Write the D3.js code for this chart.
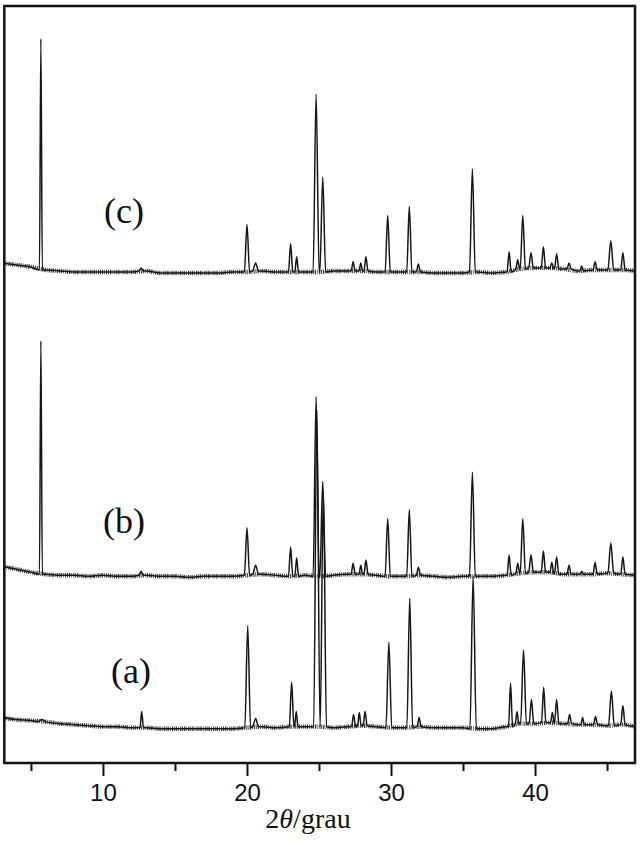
<!DOCTYPE html>
<html>
<head>
<meta charset="utf-8">
<script src="https://cdn.jsdelivr.net/npm/d3@7"></script>
<style>
  body { margin: 0; background: #fff; }
  .tick text { font-family: "Liberation Sans", Arial, sans-serif; font-size: 24px; fill: #111; }
  .panel-label { font-family: "Liberation Serif", "Times New Roman", serif; font-size: 36px; fill: #111; }
  .x-axis-label { font-family: "Liberation Serif", "Times New Roman", serif; font-size: 28px; fill: #111; }
</style>
</head>
<body>
<div id="wrapper"></div>
<script>
// baseline levels (counts) read every 1 degree, 2theta = 3 ... 47
const baselineTheta = d3.range(3, 48, 1);
const baselineA = [90,86,84,82,78,76,74,72,72,70, 70,68,68,68,68,68,68,70,72,70,
                   72,72,72,70,72,74,72,70,70,72, 70,70,70,68,68,72,78,78,80,78,
                   76,76,74,76,72];
const baselineB = [88,82,76,72,70,70,68,70,68,68, 70,68,68,66,68,68,68,70,72,70,
                   68,70,68,70,72,72,70,68,68,70, 68,66,68,68,68,70,74,76,76,72,
                   72,72,74,72,70];
const baselineC = [86,82,78,72,70,68,68,68,68,68, 70,66,66,66,66,66,68,68,70,68,
                   68,68,68,70,70,70,68,68,68,68, 66,66,66,68,66,68,74,76,76,74,
                   70,72,72,72,70];

// peaks: [2theta, apex counts, half base width (deg)]
const peaksA = [
  [5.75, 86, 0.25], [12.69, 102, 0.12], [20.05, 272, 0.2], [20.6, 88, 0.2],
  [23.1, 160, 0.16], [23.42, 102, 0.12], [24.85, 700, 0.22], [25.3, 540, 0.22],
  [27.4, 96, 0.14], [27.8, 100, 0.12], [28.2, 102, 0.14], [29.85, 240, 0.2],
  [31.3, 326, 0.2], [31.95, 90, 0.14], [35.7, 370, 0.22], [38.3, 158, 0.14],
  [38.75, 102, 0.12], [39.2, 224, 0.2], [39.75, 126, 0.16], [40.6, 150, 0.15],
  [41.2, 100, 0.12], [41.5, 126, 0.15], [42.4, 96, 0.14], [43.3, 90, 0.12],
  [44.2, 92, 0.14], [45.3, 142, 0.2], [46.1, 114, 0.15]
];
const peaksB = [
  [5.69, 534, 0.1], [12.65, 78, 0.15], [20.0, 164, 0.18], [20.6, 90, 0.2],
  [23.03, 126, 0.15], [23.45, 104, 0.13], [24.8, 424, 0.21], [25.26, 256, 0.2],
  [27.37, 94, 0.14], [27.9, 90, 0.12], [28.26, 100, 0.14], [29.77, 182, 0.18],
  [31.27, 200, 0.18], [31.9, 86, 0.14], [35.65, 274, 0.2], [38.2, 110, 0.14],
  [38.8, 94, 0.13], [39.15, 182, 0.18], [39.72, 110, 0.16], [40.58, 118, 0.15],
  [41.16, 96, 0.12], [41.5, 106, 0.15], [42.36, 90, 0.14], [43.24, 78, 0.12],
  [44.17, 96, 0.14], [45.26, 134, 0.2], [46.1, 106, 0.15]
];
const peaksC = [
  [5.69, 530, 0.1], [12.65, 76, 0.15], [20.0, 162, 0.18], [20.6, 86, 0.2],
  [23.03, 124, 0.15], [23.45, 98, 0.13], [24.8, 420, 0.21], [25.26, 256, 0.2],
  [27.37, 88, 0.14], [27.9, 86, 0.12], [28.26, 98, 0.14], [29.77, 180, 0.18],
  [31.27, 198, 0.18], [31.9, 84, 0.14], [35.65, 272, 0.2], [38.2, 108, 0.14],
  [38.8, 92, 0.13], [39.15, 180, 0.18], [39.72, 106, 0.16], [40.58, 118, 0.15],
  [41.16, 86, 0.12], [41.5, 104, 0.15], [42.36, 86, 0.14], [43.24, 80, 0.12],
  [44.17, 88, 0.14], [45.26, 130, 0.2], [46.1, 106, 0.15]
];

const seriesNames = ["(a)", "(b)", "(c)"];
const seriesOffsets = [0, 302, 905];
const xTicks = [5, 10, 15, 20, 25, 30, 35, 40, 45];
const xTickLabels = [10, 20, 30, 40];

const series = [
  { name: seriesNames[0], offset: seriesOffsets[0], base: baselineA, peaks: peaksA, label: [131, 683] },
  { name: seriesNames[1], offset: seriesOffsets[1], base: baselineB, peaks: peaksB, label: [124, 533] },
  { name: seriesNames[2], offset: seriesOffsets[2], base: baselineC, peaks: peaksC, label: [124, 223] },
];

//* dimensions
const dimensions = {
  width: 640,
  height: 843,
  margin: { top: 6, right: 5, bottom: 80, left: 4.3 },
};
dimensions.boundedWidth = dimensions.width - dimensions.margin.left - dimensions.margin.right;
dimensions.boundedHeight = dimensions.height - dimensions.margin.top - dimensions.margin.bottom;

const wrapper = d3.select("#wrapper").append("svg")
  .attr("width", dimensions.width)
  .attr("height", dimensions.height);

const bounds = wrapper.append("g")
  .attr("transform", `translate(${dimensions.margin.left},${dimensions.margin.top})`);

bounds.append("clipPath").attr("id", "plot-clip")
  .append("rect")
  .attr("width", dimensions.boundedWidth)
  .attr("height", dimensions.boundedHeight);

//* scales
const xScale = d3.scaleLinear().domain([3.15, 46.94]).range([0, dimensions.boundedWidth]);
const yScale = d3.scaleLinear().domain([0, 1500]).range([dimensions.boundedHeight, 0]);

// merge baseline samples and peak vertices into one pattern
function buildPattern(s) {
  const pts = [];
  baselineTheta.forEach((t, i) => {
    const inside = s.peaks.some(([p, , w]) => t > p - w && t < p + w);
    if (!inside) pts.push([t, s.base[i]]);
  });
  s.peaks.forEach(([p, apex, w]) => {
    const foot = s.base[Math.round(p) - baselineTheta[0]];
    pts.push([p - w, foot], [p, apex], [p + w, foot]);
  });
  return pts.sort((a, b) => a[0] - b[0]);
}

const line = d3.line()
  .x((d) => xScale(d[0]))
  .curve(d3.curveMonotoneX);

const plot = bounds.append("g").attr("clip-path", "url(#plot-clip)");

series.forEach((s) => {
  const lineY = line.y((d) => yScale(d[1] + s.offset));
  // rough noise band along the baseline
  plot.append("path")
    .attr("d", lineY(baselineTheta.map((t, i) => [t, s.base[i]])))
    .attr("fill", "none")
    .attr("stroke", "#1e1e1e")
    .attr("stroke-width", 4.4)
    .attr("stroke-dasharray", "1,0.9,1.4,1.1,0.7,1.2,1.1,0.8")
    .attr("stroke-opacity", 0.85);
  plot.append("path")
    .attr("d", lineY(buildPattern(s)))
    .attr("fill", "none")
    .attr("stroke", "#161616")
    .attr("stroke-width", 1.5)
    .attr("stroke-linejoin", "round");
});

series.forEach((s) => {
  wrapper.append("text")
    .attr("class", "panel-label")
    .attr("x", s.label[0])
    .attr("y", s.label[1])
    .attr("text-anchor", "middle")
    .text(s.name);
});

//* axis
const xAxisGenerator = d3.axisBottom(xScale)
  .tickValues(xTicks)
  .tickSize(8)
  .tickFormat((d) => (xTickLabels.includes(d) ? d : ""));

const xAxis = bounds.append("g")
  .attr("transform", `translate(0,${dimensions.boundedHeight})`)
  .call(xAxisGenerator);
xAxis.select(".domain").remove();
xAxis.selectAll(".tick line")
  .attr("stroke", "#111")
  .attr("stroke-width", 2)
  .attr("y2", (d) => (xTickLabels.includes(d) ? 13 : 8));
xAxis.selectAll(".tick text")
  .attr("y", 38)
  .attr("dy", 0);

// frame
bounds.append("rect")
  .attr("width", dimensions.boundedWidth)
  .attr("height", dimensions.boundedHeight)
  .attr("fill", "none")
  .attr("stroke", "#111")
  .attr("stroke-width", 2.5);

const xLabel = wrapper.append("text")
  .attr("class", "x-axis-label")
  .attr("x", 308)
  .attr("y", 828)
  .attr("text-anchor", "middle");
xLabel.append("tspan").text("2");
xLabel.append("tspan").attr("font-style", "italic").text("θ");
xLabel.append("tspan").text("/grau");
</script>
</body>
</html>
